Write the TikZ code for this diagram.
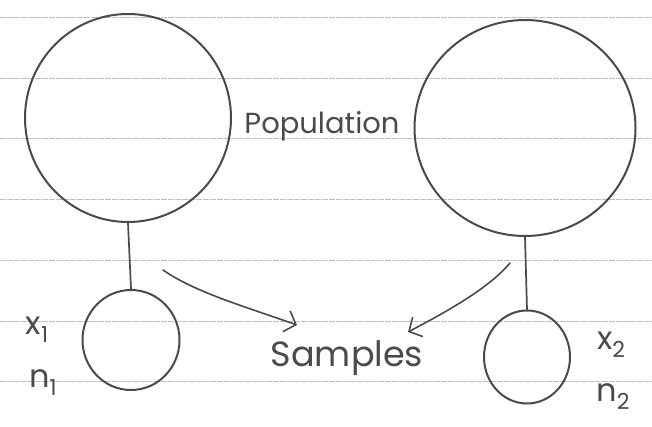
\documentclass[tikz,border=0pt]{standalone}
\usepackage{fontspec}
\setmainfont{Poppins}
\usetikzlibrary{shapes.geometric,arrows.meta}
\definecolor{pencil}{HTML}{4A4A4A}
\definecolor{rule}{HTML}{BEBEBE}
\newcommand{\handsub}[2]{#1\raisebox{-0.25em}{\fontsize{22}{22}\selectfont #2}}
\tikzset{
  pen/.style={draw=pencil, line width=2pt, line cap=round, line join=round},
  bigpop/.style={pen, ellipse, inner sep=0pt},
  smallsamp/.style={pen, ellipse, inner sep=0pt},
  ruled/.style={draw=rule, line width=0.7pt, dash pattern=on 6pt off 1pt},
  arrowpen/.style={pen, line width=1.6pt, -{Straight Barb[length=10pt,width=22pt,line width=1.6pt]}},
  hand/.style={text=pencil, inner sep=0pt},
  sym/.style={hand, font=\fontsize{32}{32}\selectfont},
}
\begin{document}
\begin{tikzpicture}[x=1pt,y=-1pt]
\useasboundingbox[fill=white] (0,0) rectangle (652,427);
% ruled paper lines
\foreach \yy in {17,78,138,199,260,321,381}
  \draw[ruled] (0,\yy) -- (652,\yy);
% population circles
\node[bigpop, minimum width=206pt, minimum height=208pt] (P1) at (128,118) {};
\node[bigpop, minimum width=221pt, minimum height=216pt] (P2) at (525,128) {};
% sample circles
\node[smallsamp, minimum width=97pt, minimum height=100pt] (S1) at (131,340) {};
\node[smallsamp, minimum width=86pt, minimum height=93pt] (S2) at (527,357) {};
% connectors
\draw[pen, line width=1.7pt] (P1.south) -- (S1.north);
\draw[pen, line width=1.7pt] (P2.south) -- (S2.north);
% labels
\node[hand, font=\fontsize{29}{29}\selectfont] (pop) at (322,126) {Population};
\node[hand, font=\fontsize{35}{35}\selectfont] (samp) at (347,358) {Samples};
\node[sym] (x1) at (37,330) {\handsub{x}{1}};
\node[sym] (n1) at (43,383) {\handsub{n}{1}};
\node[sym] (x2) at (611,345) {\handsub{x}{2}};
\node[sym] (n2) at (613,397) {\handsub{n}{2}};
% arrows to samples
\coordinate (a1s) at (163,270);
\coordinate (a1e) at (297,325);
\coordinate (a2s) at (510,263);
\coordinate (a2e) at (408,332);
\draw[arrowpen] (a1s) .. controls (195,292) and (240,305) .. (a1e);
\draw[arrowpen] (a2s) .. controls (490,287) and (450,310) .. (a2e);
\end{tikzpicture}
\end{document}
